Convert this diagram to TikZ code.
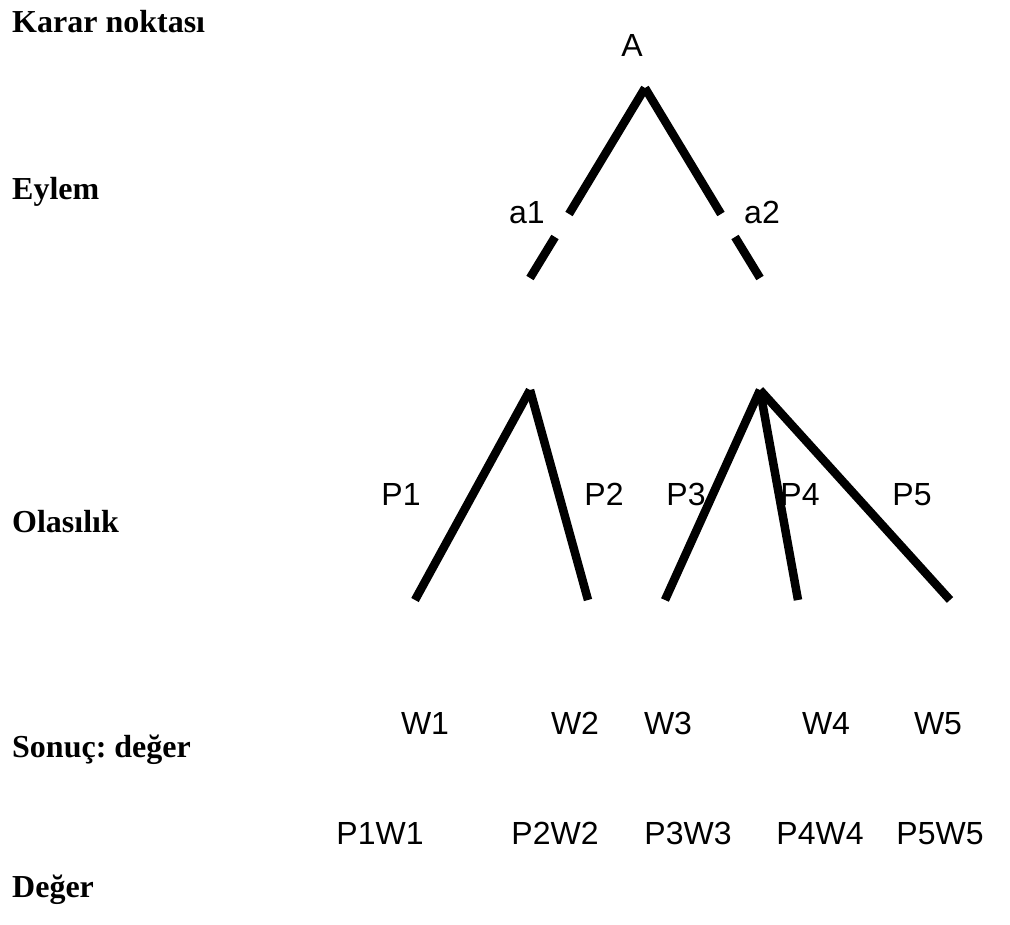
\documentclass[tikz,border=0pt]{standalone}
\usepackage{fontspec}
\setmainfont{Liberation Serif}
\newfontfamily\arialf{Liberation Sans}
\frenchspacing
\begin{document}
\begin{tikzpicture}[x=1pt,y=-1pt,
  branch/.style={line width=8.5pt,line cap=butt},
  lbl/.style={font=\arialf\fontsize{32}{38}\selectfont,inner sep=0pt,anchor=base},
  rowlbl/.style={font=\bfseries\fontsize{32}{38}\selectfont,inner sep=0pt,anchor=base west}]
\useasboundingbox[fill=white] (0,0) rectangle (1010,925);
% row labels
\node[rowlbl] (r1) at (12,33) {Karar noktası};
\node[rowlbl] (r2) at (12,200) {Eylem};
\node[rowlbl] (r3) at (12,532) {Olasılık};
\node[rowlbl] (r4) at (12,757) {Sonuç: değer};
\node[rowlbl] (r5) at (12,897) {Değer};
% decision point
\node[lbl] (A) at (632,57) {A};
\coordinate (top) at (645,88);
\coordinate (a1u) at (569,214);
\coordinate (a1l) at (555,237);
\coordinate (a1e) at (530,278);
\coordinate (a2u) at (721,214);
\coordinate (a2l) at (735,237);
\coordinate (a2e) at (760,278);
\draw[branch] (top) -- (a1u);
\draw[branch] (a1l) -- (a1e);
\draw[branch] (top) -- (a2u);
\draw[branch] (a2l) -- (a2e);
\node[lbl] (la1) at (527,224) {a1};
\node[lbl] (la2) at (762,224) {a2};
% chance nodes
\coordinate (c1) at (530,390);
\coordinate (c2) at (760,390);
\coordinate (e1) at (415,600);
\coordinate (e2) at (588,600);
\coordinate (e3) at (665,600);
\coordinate (e4) at (798,600);
\coordinate (e5) at (950,600);
\draw[branch] (c1) -- (e1);
\draw[branch] (c1) -- (e2);
\draw[branch] (c2) -- (e3);
\draw[branch] (c2) -- (e4);
\draw[branch] (c2) -- (e5);
\node[lbl] (p1) at (401,505) {P1};
\node[lbl] (p2) at (604,505) {P2};
\node[lbl] (p3) at (686,505) {P3};
\node[lbl] (p4) at (800,505) {P4};
\node[lbl] (p5) at (912,505) {P5};
% outcomes
\node[lbl] (w1) at (425,734) {W1};
\node[lbl] (w2) at (575,734) {W2};
\node[lbl] (w3) at (668,734) {W3};
\node[lbl] (w4) at (826,734) {W4};
\node[lbl] (w5) at (938,734) {W5};
% values
\node[lbl] (v1) at (380,844) {P1W1};
\node[lbl] (v2) at (555,844) {P2W2};
\node[lbl] (v3) at (688,844) {P3W3};
\node[lbl] (v4) at (820,844) {P4W4};
\node[lbl] (v5) at (940,844) {P5W5};
\end{tikzpicture}
\end{document}
